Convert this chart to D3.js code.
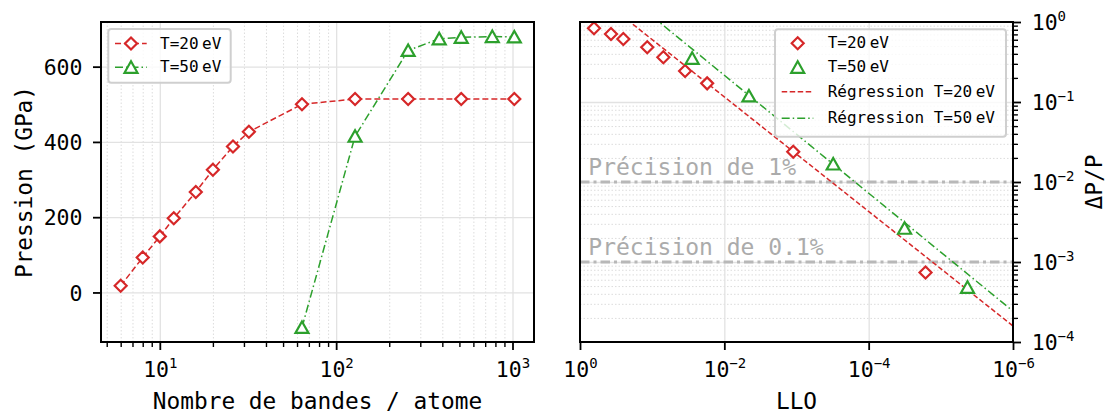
<!DOCTYPE html>
<html>
<head>
<meta charset="utf-8">
<script src="https://cdn.jsdelivr.net/npm/d3@7"></script>
<style>
body { margin: 0; background: #fff; }
text { font-family: "DejaVu Sans Mono", monospace; }
</style>
</head>
<body>
<svg id="fig" width="1108" height="417"></svg>
<script>
// left panel: pressure vs number of bands per atom
const bands20 = [6, 8, 10, 12, 16, 20, 26, 32, 64, 128, 256, 512, 1024];
const press20 = [18, 93, 149, 197, 267, 326, 388, 427, 500, 514, 514, 514, 514];
const bands50 = [64, 128, 256, 384, 512, 768, 1024];
const press50 = [-93, 415, 643, 674, 678, 680, 679];
const pressTicks = [0, 200, 400, 600];
const bandTicks = [10, 100, 1000];

// right panel: relative error vs LLO
const llo20 = [0.64, 0.372, 0.251, 0.117, 0.070, 0.035, 0.0173, 0.00111, 1.63e-5];
const err20 = [0.834, 0.708, 0.613, 0.483, 0.362, 0.244, 0.171, 0.0239, 7.4e-4];
const llo50 = [0.0279, 0.00456, 3.1e-4, 3.18e-5, 4.27e-6];
const err50 = [0.352, 0.119, 0.0168, 2.64e-3, 4.83e-4];
// log10(err) = a + b * log10(llo)
const fit20 = {a: 0.496, b: 0.716};
const fit50 = {a: 0.808, b: 0.737};
const precLevels = [0.01, 0.001];
const precLabels = ["Précision de 1%", "Précision de 0.1%"];
const lloTicks = [1, 1e-2, 1e-4, 1e-6];
const errTicks = [1, 1e-1, 1e-2, 1e-3, 1e-4];

const RED = "#d62728", GREEN = "#2ca02c";
const DASH = "6,3", DASHDOT = "8,3,1.5,3";

const svg = d3.select("#fig");
svg.append("rect").attr("width", 1108).attr("height", 417).attr("fill", "#fff");

const L = {x0: 101, x1: 534, y0: 22, y1: 342};
const R = {x0: 580, x1: 1013, y0: 22, y1: 342};

// matplotlib-like 5% margins
function padLog(ext) {
    const lo = Math.log10(ext[0]), hi = Math.log10(ext[1]), p = 0.05 * (hi - lo);
    return [Math.pow(10, lo - p), Math.pow(10, hi + p)];
}
function padLin(ext) {
    const p = 0.05 * (ext[1] - ext[0]);
    return [ext[0] - p, ext[1] + p];
}

const xL = d3.scaleLog().domain(padLog(d3.extent(bands20.concat(bands50)))).range([L.x0, L.x1]);
const yL = d3.scaleLinear().domain(padLin(d3.extent(press20.concat(press50)))).range([L.y1, L.y0]);
const xR = d3.scaleLog().domain([1, 1e-6]).range([R.x0, R.x1]);
const yR = d3.scaleLog().domain([1e-4, 1]).range([R.y1, R.y0]);

function minorsIn(scale, kMin, kMax) {
    const d = scale.domain(), lo = Math.min(d[0], d[1]), hi = Math.max(d[0], d[1]);
    const out = [];
    for (let k = kMin; k <= kMax; k++)
        for (let m = 2; m <= 9; m++) {
            const v = m * Math.pow(10, k);
            if (v >= lo && v <= hi) out.push(v);
        }
    return out;
}

function cleanAxis(g) {
    g.attr("font-size", null).attr("font-family", null);
    g.select(".domain").remove();
}

function supLabel(sel) {
    sel.each(function(d) {
        const e = Math.round(Math.log10(d));
        const t = d3.select(this).text(null);
        t.append("tspan").text("10");
        t.append("tspan").attr("dy", -9).attr("font-size", 14).text(e < 0 ? "\u2212" + (-e) : e);
    });
}

function grid(g, axis, dotted) {
    g.call(axis.tickFormat(""));
    cleanAxis(g);
    g.selectAll("line")
        .attr("stroke", dotted ? "#dcdcdc" : "#e2e2e2")
        .attr("stroke-width", dotted ? 1 : 1.3)
        .attr("stroke-dasharray", dotted ? "1.5,2" : null);
}

// ---------- grids ----------
const gL = svg.append("g");
grid(gL.append("g").attr("transform", `translate(0,${L.y1})`),
    d3.axisBottom(xL).tickValues(minorsIn(xL, 0, 3)).tickSize(-(L.y1 - L.y0)), true);
grid(gL.append("g").attr("transform", `translate(0,${L.y1})`),
    d3.axisBottom(xL).tickValues(bandTicks).tickSize(-(L.y1 - L.y0)), false);
grid(gL.append("g").attr("transform", `translate(${L.x0},0)`),
    d3.axisLeft(yL).tickValues(pressTicks).tickSize(-(L.x1 - L.x0)), false);

const gR = svg.append("g");
grid(gR.append("g").attr("transform", `translate(${R.x0},0)`),
    d3.axisLeft(yR).tickValues(minorsIn(yR, -4, -1)).tickSize(-(R.x1 - R.x0)), true);
grid(gR.append("g").attr("transform", `translate(${R.x0},0)`),
    d3.axisLeft(yR).tickValues([1e-1, 1e-2, 1e-3]).tickSize(-(R.x1 - R.x0)), false);
grid(gR.append("g").attr("transform", `translate(0,${R.y1})`),
    d3.axisBottom(xR).tickValues([1e-2, 1e-4]).tickSize(-(R.y1 - R.y0)), false);

// ---------- precision levels ----------
svg.append("g").selectAll("line").data(precLevels).join("line")
    .attr("x1", R.x0).attr("x2", R.x1)
    .attr("y1", d => yR(d)).attr("y2", d => yR(d))
    .attr("stroke", "#b8b8b8").attr("stroke-width", 3)
    .attr("stroke-dasharray", "9.5,4,3,4");
svg.append("g").selectAll("text").data(precLevels).join("text")
    .attr("x", R.x0 + 8.3).attr("y", d => yR(d) - 6.7)
    .attr("font-size", 23).attr("fill", "#ababab")
    .text((d, i) => precLabels[i]);

// ---------- regression lines ----------
svg.append("clipPath").attr("id", "clipR").append("rect")
    .attr("x", R.x0).attr("y", R.y0).attr("width", R.x1 - R.x0).attr("height", R.y1 - R.y0);
const fitLine = d3.line().x(d => xR(d[0])).y(d => yR(d[1]));
function fitPoints(f) {
    return xR.domain().map(x => [x, Math.pow(10, f.a + f.b * Math.log10(x))]);
}
const gFit = svg.append("g").attr("clip-path", "url(#clipR)");
gFit.append("path").attr("d", fitLine(fitPoints(fit20)))
    .attr("fill", "none").attr("stroke", RED).attr("stroke-width", 1.5).attr("stroke-dasharray", "5,2.5");
gFit.append("path").attr("d", fitLine(fitPoints(fit50)))
    .attr("fill", "none").attr("stroke", GREEN).attr("stroke-width", 1.5).attr("stroke-dasharray", DASHDOT);

// ---------- markers ----------
const diamond = "M0,-6L6,0L0,6L-6,0Z";
const triangle = "M0,-6L6.5,5.5L-6.5,5.5Z";
function markers(g, pts, shape, color) {
    g.selectAll(null).data(pts).join("path")
        .attr("d", shape)
        .attr("transform", d => `translate(${d[0]},${d[1]})`)
        .attr("fill", "#fff").attr("stroke", color).attr("stroke-width", 2.2);
}

// left data
const lineL = d3.line().x(d => xL(d[0])).y(d => yL(d[1]));
const left20 = d3.zip(bands20, press20), left50 = d3.zip(bands50, press50);
svg.append("path").attr("d", lineL(left20)).attr("fill", "none")
    .attr("stroke", RED).attr("stroke-width", 1.5).attr("stroke-dasharray", DASH);
svg.append("path").attr("d", lineL(left50)).attr("fill", "none")
    .attr("stroke", GREEN).attr("stroke-width", 1.5).attr("stroke-dasharray", DASHDOT);
markers(svg.append("g"), left20.map(d => [xL(d[0]), yL(d[1])]), diamond, RED);
markers(svg.append("g"), left50.map(d => [xL(d[0]), yL(d[1])]), triangle, GREEN);

// right data
markers(svg.append("g"), d3.zip(llo20, err20).map(d => [xR(d[0]), yR(d[1])]), diamond, RED);
markers(svg.append("g"), d3.zip(llo50, err50).map(d => [xR(d[0]), yR(d[1])]), triangle, GREEN);

// ---------- axes ----------
function styleTicks(g, w) {
    g.selectAll("line").attr("stroke", "#000").attr("stroke-width", w);
    g.selectAll("text").attr("font-size", 21.5).attr("fill", "#000");
}

let g = svg.append("g").attr("transform", `translate(0,${L.y1})`)
    .call(d3.axisBottom(xL).tickValues(minorsIn(xL, 0, 3)).tickSize(5).tickFormat(""));
cleanAxis(g); styleTicks(g, 1.4);
g = svg.append("g").attr("transform", `translate(0,${L.y1})`)
    .call(d3.axisBottom(xL).tickValues(bandTicks).tickSize(8));
cleanAxis(g); styleTicks(g, 1.8);
g.selectAll("text").attr("y", 34.7).attr("dy", null).call(supLabel);

g = svg.append("g").attr("transform", `translate(${L.x0},0)`)
    .call(d3.axisLeft(yL).tickValues(pressTicks).tickSize(8).tickPadding(10.5));
cleanAxis(g); styleTicks(g, 1.8);
g.selectAll("text").attr("dy", "0.36em");

g = svg.append("g").attr("transform", `translate(0,${R.y1})`)
    .call(d3.axisBottom(xR).tickValues(lloTicks).tickSize(8));
cleanAxis(g); styleTicks(g, 1.8);
g.selectAll("text").attr("y", 34.7).attr("dy", null).call(supLabel);

g = svg.append("g").attr("transform", `translate(${R.x1},0)`)
    .call(d3.axisRight(yR).tickValues(minorsIn(yR, -4, -1)).tickSize(5).tickFormat(""));
cleanAxis(g); styleTicks(g, 1.4);
g = svg.append("g").attr("transform", `translate(${R.x1},0)`)
    .call(d3.axisRight(yR).tickValues(errTicks).tickSize(8).tickPadding(10.7));
cleanAxis(g); styleTicks(g, 1.8);
g.selectAll("text").attr("dy", "0.36em").call(supLabel);

// frames
[L, R].forEach(p => {
    svg.append("rect").attr("x", p.x0).attr("y", p.y0)
        .attr("width", p.x1 - p.x0).attr("height", p.y1 - p.y0)
        .attr("fill", "none").attr("stroke", "#000").attr("stroke-width", 2);
});

// axis titles
svg.append("text").attr("x", (L.x0 + L.x1) / 2).attr("y", 409.3)
    .attr("text-anchor", "middle").attr("font-size", 22.8).text("Nombre de bandes / atome");
svg.append("text").attr("x", (R.x0 + R.x1) / 2).attr("y", 409.3)
    .attr("text-anchor", "middle").attr("font-size", 22.8).text("LLO");
svg.append("text").attr("transform", `translate(32,${(L.y0 + L.y1) / 2}) rotate(-90)`)
    .attr("text-anchor", "middle").attr("font-size", 22.8).text("Pression (GPa)");
svg.append("text").attr("transform", `translate(1102,${(R.y0 + R.y1) / 2}) rotate(-90)`)
    .attr("text-anchor", "middle").attr("font-size", 22.8).text("\u0394P/P");

// ---------- legends ----------
function legendBox(x, y, w, h) {
    svg.append("rect").attr("x", x).attr("y", y).attr("width", w).attr("height", h).attr("rx", 3)
        .attr("fill", "#fff").attr("fill-opacity", 0.8)
        .attr("stroke", "#cfcfcf").attr("stroke-width", 2);
}
function legendText(x, y, prefix) {
    const t = svg.append("text").attr("x", x).attr("y", y).attr("font-size", 16);
    t.append("tspan").text(prefix);
    t.append("tspan").attr("dx", 3.5).text("eV");
}
function legendLine(x0, x1, y, color, dash) {
    svg.append("line").attr("x1", x0).attr("x2", x1).attr("y1", y).attr("y2", y)
        .attr("stroke", color).attr("stroke-width", 1.5).attr("stroke-dasharray", dash);
}

legendBox(108.3, 29, 122.4, 53.7);
legendLine(115, 146.7, 43.5, RED, DASH);
legendLine(115, 146.7, 67.3, GREEN, DASHDOT);
markers(svg.append("g"), [[131, 43.5]], diamond, RED);
markers(svg.append("g"), [[131, 67.3]], triangle, GREEN);
legendText(160, 48.5, "T=20");
legendText(160, 71.5, "T=50");

legendBox(775, 29.3, 231, 107.4);
markers(svg.append("g"), [[797.7, 43.3]], diamond, RED);
markers(svg.append("g"), [[797.7, 67.3]], triangle, GREEN);
legendLine(781.7, 813.3, 91.7, RED, "5.5,2.5");
legendLine(781.7, 813.3, 118.3, GREEN, DASHDOT);
legendText(827.7, 48, "T=20");
legendText(827.7, 72.3, "T=50");
legendText(827.7, 97.3, "Régression T=20");
legendText(827.7, 123.3, "Régression T=50");
</script>
</body>
</html>
